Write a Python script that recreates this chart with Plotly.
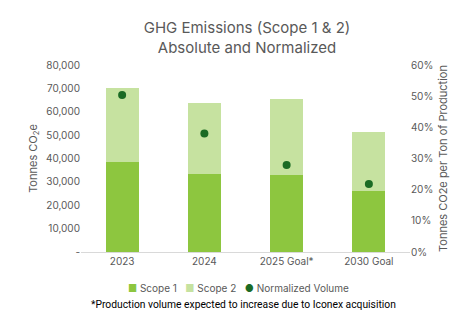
import plotly.graph_objects as go

categories = ["2023", "2024", "2025 Goal*", "2030 Goal"]
scope1 = [38400, 33500, 33100, 26100]
scope2 = [31600, 30400, 32200, 25400]
normalized = [0.504, 0.380, 0.279, 0.218]
series_names = ["Scope 1", "Scope 2", "Normalized Volume"]

left_tickvals = [0, 10000, 20000, 30000, 40000, 50000, 60000, 70000, 80000]
left_ticktext = ["-", "10,000", "20,000", "30,000", "40,000", "50,000", "60,000", "70,000", "80,000"]

gray = "#595959"
font = "Inter"
c1, c2, c3 = "#8DC63F", "#C6E2A0", "#1B6B24"

fig = go.Figure()
fig.add_trace(go.Bar(x=categories, y=scope1, name=series_names[0],
                     marker=dict(color=c1, line=dict(width=0))))
fig.add_trace(go.Bar(x=categories, y=scope2, name=series_names[1],
                     marker=dict(color=c2, line=dict(width=0))))
fig.add_trace(go.Scatter(x=categories, y=normalized, name=series_names[2], mode="markers",
                         marker=dict(color=c3, size=8), yaxis="y2"))

fig.update_layout(
    width=475, height=321,
    margin=dict(l=81, r=65, t=65, b=69),
    barmode="stack", bargap=0.6,
    paper_bgcolor="white", plot_bgcolor="white",
    font=dict(family=font, color=gray, size=10),
    showlegend=False,
    title=dict(text="GHG Emissions (Scope 1 & 2)<br>Absolute and Normalized",
               x=0.52, xanchor="center", y=0.897, yanchor="middle", yref="container",
               font=dict(family=font, size=15, color=gray)),
    xaxis=dict(showgrid=False, showline=True, linecolor="#D9D9D9", linewidth=1,
               ticks="", tickfont=dict(size=10, color=gray)),
    yaxis=dict(range=[0, 80000], tickvals=left_tickvals, ticktext=left_ticktext,
               showgrid=False, zeroline=False, showline=False,
               title=dict(text="Tonnes CO<sub>2</sub>e", font=dict(size=11, color=gray), standoff=6),
               tickfont=dict(size=10, color=gray)),
    yaxis2=dict(range=[0, 0.6], overlaying="y", side="right", tickformat=".0%", dtick=0.1,
                showgrid=False, zeroline=False, showline=False,
                title=dict(text="Tonnes CO2e per Ton of Production", font=dict(size=11, color=gray), standoff=6),
                tickfont=dict(size=10, color=gray)),
)

legend_text = (
    f'<span style="color:{c1}">■</span> {series_names[0]}&nbsp;&nbsp;&nbsp;'
    f'<span style="color:{c2}">■</span> {series_names[1]}&nbsp;&nbsp;&nbsp;'
    f'<span style="color:{c3}">●</span> {series_names[2]}'
)
fig.add_annotation(text=legend_text, xref="paper", yref="paper", x=0.48, y=-0.193,
                   xanchor="center", yanchor="middle", showarrow=False,
                   font=dict(family=font, size=10, color=gray))

fig.add_annotation(text="*Production volume expected to increase due to Iconex acquisition",
                   xref="paper", yref="paper", x=0.495, y=-0.283, xanchor="center", yanchor="middle",
                   showarrow=False, font=dict(family="Roboto", size=10.3, color="#000000"))

fig.write_html("out.html")
